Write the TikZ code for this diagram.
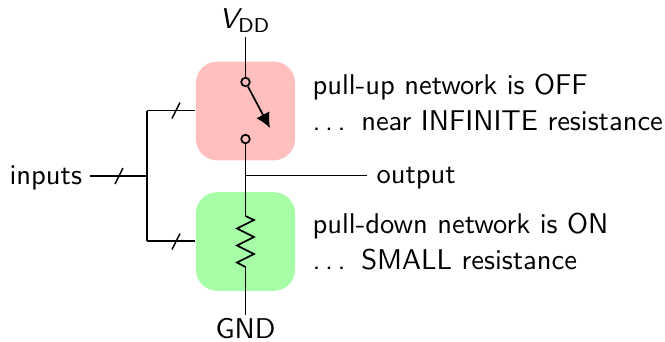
\documentclass[tikz,border=0pt]{standalone}
\usetikzlibrary{arrows.meta,calc}
\definecolor{pullred}{HTML}{FFBFBF}
\definecolor{pullgreen}{HTML}{A6FFA6}
\newcommand{\sdots}{.\hspace{0.16em}.\hspace{0.16em}.\hspace{0.55em}}
\tikzset{
  wire/.style={draw=black,line width=0.6pt},
  netbox/.style={rounded corners=7.4pt,minimum width=34.7pt,minimum height=34.5pt,inner sep=0pt,draw=none},
  txt/.style={anchor=base west,inner sep=0pt,font=\sffamily},
  term/.style={anchor=base,inner sep=0pt,font=\sffamily},
  contact/.style={circle,draw=black,fill=none,line width=0.6pt,minimum size=3pt,inner sep=0pt},
  slashmark/.style={draw=black,line width=0.5pt}
}
\begin{document}
\begin{tikzpicture}[x=0.35pt,y=-0.35pt]
\useasboundingbox (0,0) rectangle (665,341);
\node[netbox,fill=pullred] (up) at (245.5,111) {};
\node[netbox,fill=pullgreen] (down) at (245.5,241.5) {};
% terminals and text
\node[term] (vdd) at (245,28.5) {$\textsl{V}_{\mathsf{DD}}$};
\node[term] (gnd) at (245.5,338) {GND};
\node[txt] (inp) at (9,184) {inputs};
\node[txt] (out) at (376,183.5) {output};
\node[txt] (t1) at (312,94.5) {pull-up network is OFF};
\node[txt] (t2) at (312,130) {\sdots near INFINITE resistance};
\node[txt] (t3) at (312,233) {pull-down network is ON};
\node[txt] (t4) at (312,269) {\sdots SMALL resistance};
% coordinates
\coordinate (vt) at (245.5,37);
\coordinate (gb) at (245.5,315);
\coordinate (j) at (245.5,175.5);
\coordinate (ot) at (367,175.5);
\coordinate (il) at (90,176);
\coordinate (ij) at (147,176);
\coordinate (iu) at (147,110.5);
\coordinate (id) at (147,241);
\coordinate (rt) at (245.5,216);
\coordinate (rb) at (245.5,267);
\coordinate (tip) at (270,128);
\node[contact] (c1) at (245.5,82) {};
\node[contact] (c2) at (245.5,139) {};
% wires
\draw[wire] (vt) -- (c1);
\draw[wire] (c2) -- (j);
\draw[wire] (j) -- (rt);
\draw[wire] (rb) -- (gb);
\draw[wire] (j) -- (ot);
\draw[wire] (il) -- (ij);
\draw[wire] (iu) -- (ij) -- (id);
\draw[wire] (iu) -- (iu -| up.west);
\draw[wire] (id) -- (id -| down.west);
\draw[wire,-{Latex[length=5.2pt,width=5.2pt]}] (c1) -- (tip);
% resistor
\draw[wire,line join=miter] (rt) -- ++(8.5,4) -- ++(-17,8.5) -- ++(17,8.5) -- ++(-17,8.5) -- ++(17,8.5) -- ++(-17,8.5) -- (rb);
% bus slashes
\draw[slashmark] (115,184) -- (123,168);
\draw[slashmark] (172,118.5) -- (180,102.5);
\draw[slashmark] (172,249.5) -- (180,233.5);
\end{tikzpicture}
\end{document}
